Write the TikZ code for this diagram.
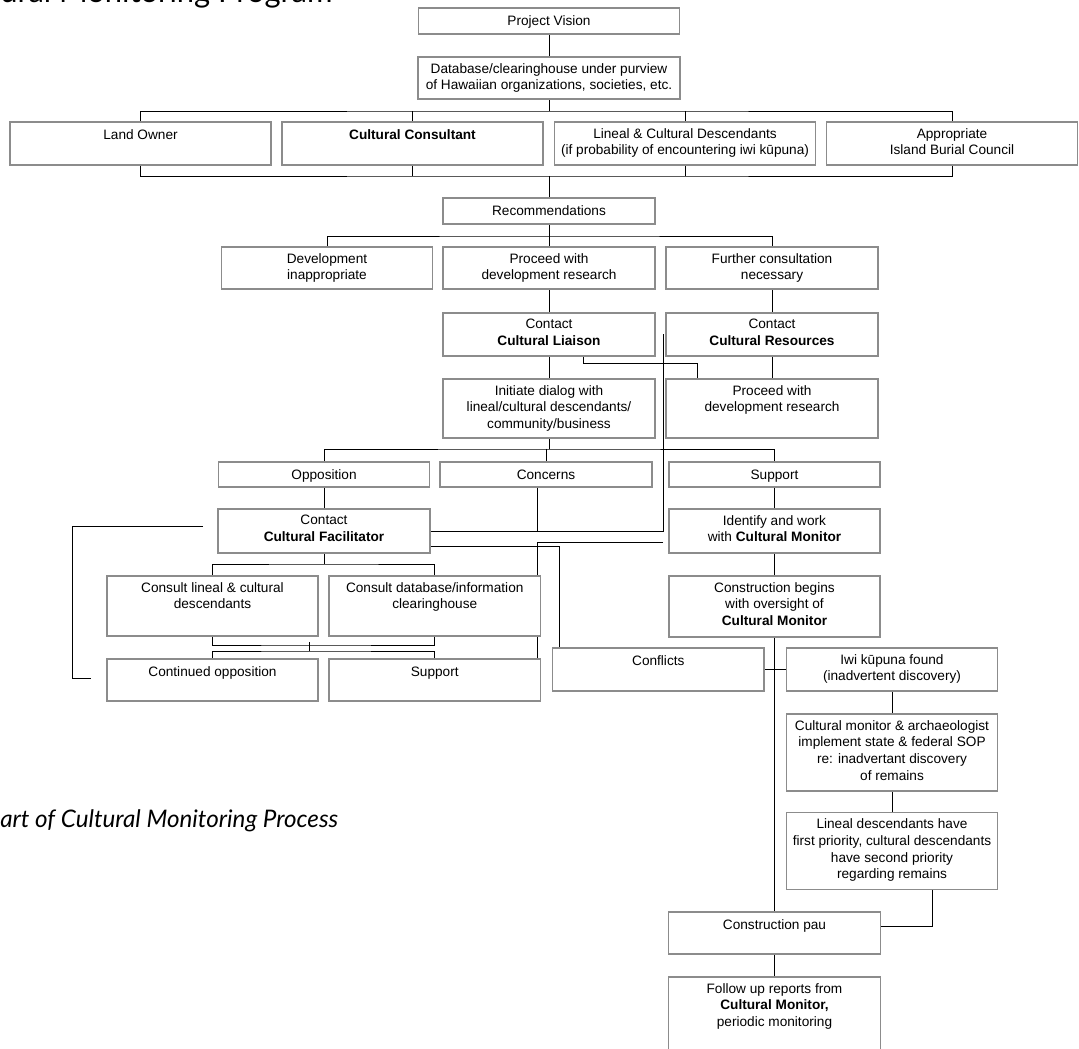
\documentclass[tikz,border=0pt]{standalone}
\usepackage{fontspec}
\setmainfont{Liberation Sans}
\newfontfamily\titlefont{Lato}
\usetikzlibrary{backgrounds}

\newcommand\boxfont{\fontsize{9.7}{11.9}\selectfont}

\begin{document}
\begin{tikzpicture}[x=0.025cm, y=-0.025cm,
        box/.style={draw=black!45, line width=0.9pt, fill=white, inner sep=0pt, outer sep=0pt},
        sz/.style 2 args={minimum width=#1*0.025cm, minimum height=#2*0.025cm},
        lbl/.style={anchor=north, align=center, inner sep=0pt, yshift=-4.2pt, font=\boxfont,
            execute at begin node=\strut},
        wire/.style={line width=0.8pt}]
    \useasboundingbox (0,0) rectangle (1079,1049);
    \clip (0,0) rectangle (1079,1049);

    % page headings, cut by the page edge
    \node[anchor=base west, inner sep=0pt, font=\titlefont\fontsize{22}{26}\selectfont] (head) at (0,2.5) {ural Monitoring Program};
    \node[anchor=base west, inner sep=0pt, font=\titlefont\itshape\fontsize{17.2}{20}\selectfont] (caption) at (0,827) {art of Cultural Monitoring Process};

    % top of the chart
    \node[box, sz={261}{26}, label={[lbl]north:Project Vision}] (pv) at (549,21) {};
    \node[box, sz={262}{42}, label={[lbl]north:{Database/clearinghouse under purview\\of Hawaiian organizations, societies, etc.}}] (db) at (549,78) {};
    \node[box, sz={261}{43}, label={[lbl]north:Land Owner}] (own) at (140.5,143.5) {};
    \node[box, sz={261}{43}, label={[lbl]north:\textbf{Cultural Consultant}}] (cons) at (412.5,143.5) {};
    \node[box, sz={261}{43}, label={[lbl]north:{Lineal \& Cultural Descendants\\(if probability of encountering iwi kūpuna)}}] (desc) at (685,143.5) {};
    \node[box, sz={251}{43}, label={[lbl]north:{Appropriate\\Island Burial Council}}] (ibc) at (952,143.5) {};
    \node[box, sz={212}{26}, label={[lbl]north:Recommendations}] (rec) at (549,211) {};
    \node[box, sz={211}{42}, label={[lbl]north:{Development\\inappropriate}}] (dev) at (327,268) {};
    \node[box, sz={212}{42}, label={[lbl]north:{Proceed with\\development research}}] (proc) at (549,268) {};
    \node[box, sz={212}{42}, label={[lbl]north:{Further consultation\\necessary}}] (furth) at (772,268) {};
    \node[box, sz={212}{43}, label={[lbl]north:{Contact\\\textbf{Cultural Liaison}}}] (liai) at (549,334.5) {};
    \node[box, sz={212}{43}, label={[lbl]north:{Contact\\\textbf{Cultural Resources}}}] (res) at (772,334.5) {};
    \node[box, sz={212}{59}, label={[lbl]north:{Initiate dialog with\\lineal/cultural descendants/\\community/business}}] (init) at (549,408.5) {};
    \node[box, sz={212}{59}, label={[lbl]north:{Proceed with\\development research}}] (proc2) at (772,408.5) {};

    % dialog outcomes
    \node[box, sz={211}{25}, label={[lbl]north:Opposition}] (opp) at (324,474.5) {};
    \node[box, sz={212}{25}, label={[lbl]north:Concerns}] (conc) at (546,474.5) {};
    \node[box, sz={211}{25}, label={[lbl]north:Support}] (sup) at (774.5,474.5) {};
    \node[box, sz={212}{44}, label={[lbl]north:{Contact\\\textbf{Cultural Facilitator}}}] (fac) at (324,531) {};
    \node[box, sz={211}{44}, label={[lbl]north:{Identify and work\\with \textbf{Cultural Monitor}}}] (ident) at (774.5,531) {};
    \node[box, sz={211}{60}, label={[lbl]north:{Consult lineal \& cultural\\descendants}}] (cl) at (212.5,606) {};
    \node[box, sz={211.5}{60}, label={[lbl]north:{Consult database/information\\clearinghouse}}] (cd) at (434.75,606) {};
    \node[box, sz={211}{61}, label={[lbl]north:{Construction begins\\with oversight of\\\textbf{Cultural Monitor}}}] (cb) at (774.5,606.5) {};
    \node[box, sz={211}{42}, label={[lbl]north:Continued opposition}] (cont) at (212.5,680) {};
    \node[box, sz={211.5}{42}, label={[lbl]north:Support}] (sup2) at (434.75,680) {};
    \node[box, sz={211.4}{43}, label={[lbl]north:Conflicts}] (conf) at (658.3,669.5) {};

    % burials found during construction
    \node[box, sz={211}{43}, label={[lbl]north:{Iwi kūpuna found\\(inadvertent discovery)}}] (iwi) at (892,669.5) {};
    \node[box, sz={211}{77}, label={[lbl]north:{Cultural monitor \& archaeologist\\implement state \& federal SOP\\re: inadvertant discovery\\of remains}}] (cm) at (892,752.5) {};
    \node[box, sz={211}{77}, label={[lbl]north:{Lineal descendants have\\first priority, cultural descendants\\have second priority\\regarding remains}}] (ld) at (892,851) {};
    \node[box, sz={212}{42}, label={[lbl]north:Construction pau}] (pau) at (774.5,933) {};
    \node[box, sz={212}{96}, label={[lbl]north:{Follow up reports from\\\textbf{Cultural Monitor,}\\periodic monitoring}}] (fu) at (774.5,1025) {};

    \coordinate (j1) at (549,111);
    \coordinate (j2) at (549,176);
    \coordinate (j3) at (549,236);
    \coordinate (j4) at (549,449);
    \coordinate (j5) at (324,564);
    \coordinate (j6) at (309,645);
    \coordinate (j7) at (309,651);

    \begin{scope}[on background layer, wire]
        \draw (pv) -- (db);
        \draw (db) -- (j1);
        \draw (own.north) |- (j1) -| (ibc.north);
        \draw (cons.north) -- (cons.north |- j1);
        \draw (desc.north) -- (desc.north |- j1);
        \draw (own.south) |- (j2) -| (ibc.south);
        \draw (cons.south) -- (cons.south |- j2);
        \draw (desc.south) -- (desc.south |- j2);
        \draw (j2) -- (rec);
        \draw (rec) -- (proc);
        \draw (dev.north) |- (j3) -| (furth.north);
        \draw (proc) -- (liai);
        \draw (furth) -- (res);
        \draw (liai) -- (init);
        \draw (res) -- (proc2);
        \draw ([shift={(34,0)}]liai.south) -- ++(0,7) -| ([shift={(-75,0)}]proc2.north);
        \draw ([shift={(-3,0)}]res.west) |- (fac.east);
        \draw (init) -- (j4);
        \draw (opp.north) |- (j4) -| (sup.north);
        \draw (j4 -| conc.north) -- (conc.north);
        \draw ([shift={(-9,0)}]conc.south) -- ++(0,44);
        \draw (opp) -- (fac);
        \draw (sup) -- (ident);
        \draw (ident) -- (cb);
        \draw ([shift={(-6,11)}]ident.west) -| ([shift={(-3.5,0)}]sup2.north east);
        \draw ([shift={(0,15)}]fac.east) -| ([shift={(6.5,0)}]conf.north west);
        \draw (fac) -- (j5);
        \draw (cl.north) |- (j5) -| (cd.north);
        \draw (cl.south) |- (j6) -| (cd.south);
        \draw (cont.north) |- (j7) -| (sup2.north);
        \draw ([shift={(0,-3)}]j6) -- (j7);
        \draw ([shift={(-15,-5)}]fac.west) -- ++(-131,0) |- ([shift={(-16,-2)}]cont.west);
        \draw (cb) -- (pau);
        \draw (conf) -- (iwi);
        \draw (iwi) -- (cm);
        \draw (cm) -- (ld);
        \draw ([shift={(40,0)}]ld.south) |- ([shift={(0,-7)}]pau.east);
        \draw (pau) -- (fu);
    \end{scope}
\end{tikzpicture}
\end{document}
